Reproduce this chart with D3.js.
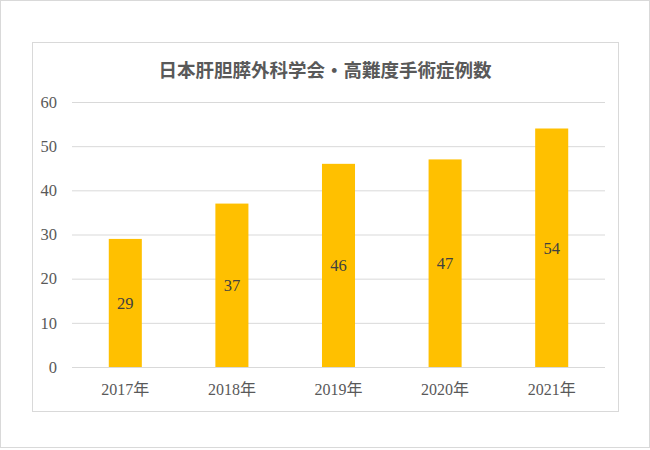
<!DOCTYPE html>
<html><head><meta charset="utf-8">
<script src="https://cdn.jsdelivr.net/npm/d3@7"></script>
<style>
body{margin:0;background:#fff;}
text{font-family:"Liberation Serif","Noto Sans CJK JP",serif;}
</style></head>
<body><svg id="c" width="650" height="450"></svg>
<script>
const categories = ["2017年","2018年","2019年","2020年","2021年"];
const values = [29,37,46,47,54];
const yTicks = [0,10,20,30,40,50,60];
const title = "日本肝胆膵外科学会・高難度手術症例数";

const svg = d3.select("#c");
svg.append("rect").attr("x",0.5).attr("y",0.5).attr("width",649).attr("height",447)
  .attr("fill","#fff").attr("stroke","#d9d9d9");
svg.append("rect").attr("x",32.5).attr("y",42.5).attr("width",586).attr("height",369)
  .attr("fill","#fff").attr("stroke","#d9d9d9");

const m = {l:72,r:605,t:102,b:367};
const x = d3.scaleBand().domain(categories).range([m.l,m.r]).paddingInner(0.69).paddingOuter(0.345);
const y = d3.scaleLinear().domain([0,60]).range([m.b,m.t]);

svg.append("text").attr("x",325).attr("y",77).attr("text-anchor","middle")
  .attr("font-size",18.5).attr("font-weight","bold").attr("fill","#595959").text(title);

const ga = svg.append("g").attr("transform",`translate(${m.l},0)`)
  .call(d3.axisLeft(y).tickValues(yTicks).tickSize(-(m.r-m.l)).tickPadding(15));
ga.select(".domain").remove();
ga.selectAll(".tick line").attr("stroke","#d9d9d9");
ga.selectAll(".tick text").attr("fill","#595959").attr("font-size",16.5)
  .style("font-family",'"Liberation Serif",serif');

const gx = svg.append("g").attr("transform",`translate(0,${m.b})`)
  .call(d3.axisBottom(x).tickSize(0).tickPadding(17));
gx.select(".domain").remove();
gx.selectAll(".tick text").attr("fill","#595959").attr("font-size",16)
  .style("font-family",'"Liberation Serif","Noto Sans CJK JP",serif');

svg.selectAll("rect.bar").data(values).join("rect").attr("class","bar")
  .attr("x",(d,i)=>x(categories[i])).attr("width",x.bandwidth())
  .attr("y",d=>y(d)).attr("height",d=>y(0)-y(d)).attr("fill","#ffc000");

svg.append("line").attr("x1",m.l).attr("x2",m.r).attr("y1",m.b+0.5).attr("y2",m.b+0.5).attr("stroke","#d9d9d9");

svg.selectAll("text.lbl").data(values).join("text").attr("class","lbl")
  .attr("x",(d,i)=>x(categories[i])+x.bandwidth()/2)
  .attr("y",d=>(y(d)+y(0))/2).attr("dy","0.35em").attr("text-anchor","middle")
  .attr("font-size",16.5).attr("fill","#404040").text(d=>d);
</script></body></html>
